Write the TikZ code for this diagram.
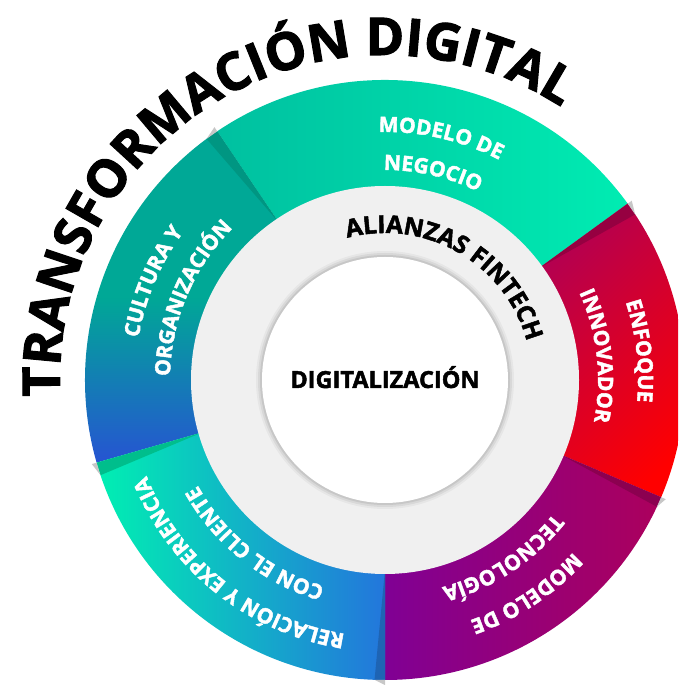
\documentclass[tikz,border=0pt]{standalone}
\usepackage{fontspec}
\setmainfont{Open Sans}[BoldFeatures={FakeBold=2}]
\usetikzlibrary{decorations.text}

\definecolor{cultA}{RGB}{0,168,150}
\definecolor{cultB}{RGB}{38,84,210}
\definecolor{negA}{RGB}{0,192,160}
\definecolor{negB}{RGB}{0,236,178}
\definecolor{enfA}{RGB}{180,0,80}
\definecolor{enfB}{RGB}{255,0,0}
\definecolor{tecA}{RGB}{128,0,148}
\definecolor{tecB}{RGB}{172,0,92}
\definecolor{relA}{RGB}{0,240,178}
\definecolor{relB}{RGB}{35,118,220}
\definecolor{ringgray}{RGB}{240,240,240}
\definecolor{foldA}{RGB}{0,150,130}
\definecolor{foldB}{RGB}{150,0,65}
\definecolor{foldC}{RGB}{140,0,80}
\definecolor{foldD}{RGB}{30,100,180}
\definecolor{foldE}{RGB}{0,190,140}

% annular piece between two angles
\newcommand{\ringpath}[2]{(#1:300pt) arc[start angle=#1,end angle=#2,radius=300pt]
  -- (#2:190pt) arc[start angle=#2,end angle=#1,radius=190pt] -- cycle}
% text on a clockwise arc, centred on an angle
\newcommand{\arclabel}[4]{%
  \path[decorate,decoration={text along path,text align=center,text={|#3|#4}}]
    ({#2+70}:#1pt) arc[start angle={#2+70},end angle={#2-70},radius=#1pt];}
\newcommand{\ttl}{\color{black}\bfseries\fontsize{52}{60}\selectfont}
\newcommand{\inn}{\color{black}\bfseries\fontsize{24.5}{28}\selectfont}
\newcommand{\seg}{\color{white}\bfseries\fontsize{21}{24}\selectfont}

\begin{document}
\begin{tikzpicture}[x=1pt,y=1pt,
    fold/.style={fill=#1},
    corner/.style={fill=black!22},
    core/.style={font=\bfseries\fontsize{23.5}{26}\selectfont}]
  \useasboundingbox (0,0) rectangle (678,688);
  \clip (0,0) rectangle (678,688);
  \begin{scope}[shift={(385,308)}]
    % outer pieces
    \shade[top color=cultA,bottom color=cultB,middle color=cultA] \ringpath{124}{196};
    \shade[left color=negA,right color=negB] \ringpath{36}{124};
    \shade[top color=enfA,bottom color=enfB,shading angle=45] \ringpath{-23}{36};
    \shade[left color=tecA,right color=tecB] \ringpath{-90}{-23};
    \shade[left color=relA,right color=relB] \ringpath{196}{270};
    % folds
    \fill[fold=foldA] (124:190pt) -- (124:300pt) arc[start angle=124,end angle=126.5,radius=300pt] -- cycle;
    \fill[fold=foldB] (36:190pt) -- (36:300pt) arc[start angle=36,end angle=33.5,radius=300pt] -- cycle;
    \fill[fold=foldC] (-23:190pt) -- (-23:300pt) arc[start angle=-23,end angle=-25,radius=300pt] -- cycle;
    \fill[fold=foldD] (270:190pt) -- (270:300pt) arc[start angle=270,end angle=268,radius=300pt] -- cycle;
    \fill[fold=foldE] (196:190pt) -- (196:300pt) arc[start angle=196,end angle=198.5,radius=300pt] -- cycle;
    % small grey corners
    \foreach \a/\b in {124/126.5,36/33.5,-23/-25,270/268,196/198.5}
      \fill[corner] (\a:300pt) -- (\b:300pt) -- (\a:305pt) -- cycle;
    % grey ring and white core
    \fill[ringgray] (0,0) circle[radius=194pt];
    \foreach \r/\o in {129/0.04,127/0.06,125/0.08}
      \fill[black,opacity=\o] (0,0) circle[radius=\r pt];
    \fill[white] (0,0) circle[radius=123pt];
    \node[core,anchor=base] (dig) at (0,-8) {DIGITALIZACIÓN};
    % labels
    \arclabel{325}{120}{\ttl}{TRANSFORMACIÓN DIGITAL}
    \arclabel{147}{60}{\inn}{ALIANZAS FINTECH}
    \arclabel{248}{77}{\seg}{MODELO DE}
    \arclabel{210}{77}{\seg}{NEGOCIO}
    \arclabel{250}{157}{\seg}{CULTURA Y}
    \arclabel{215}{157}{\seg}{ORGANIZACIÓN}
    \arclabel{253}{6.5}{\seg}{ENFOQUE}
    \arclabel{213}{6.5}{\seg}{INNOVADOR}
    \arclabel{255}{-56.5}{\seg}{MODELO DE}
    \arclabel{215}{-56.5}{\seg}{TECNOLOGÍA}
    \arclabel{257}{231.5}{\seg}{RELACIÓN Y EXPERIENCIA}
    \arclabel{215}{231.5}{\seg}{CON EL CLIENTE}
  \end{scope}
\end{tikzpicture}
\end{document}
